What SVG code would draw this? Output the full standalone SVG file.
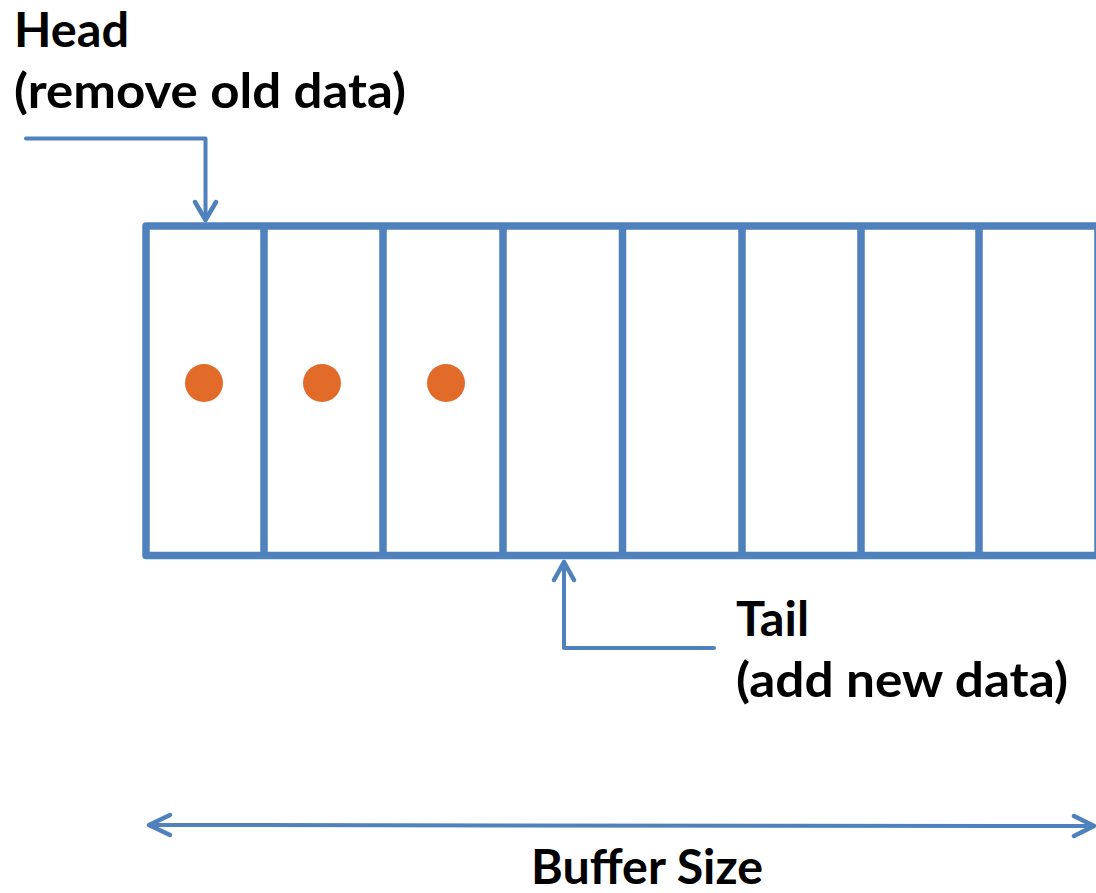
<svg xmlns="http://www.w3.org/2000/svg" width="1096" height="893" viewBox="0 0 1096 893">
<style>
.cell{fill:none;stroke:#4f81bd;stroke-width:7.5;stroke-linejoin:round}
.div{stroke:#4f81bd;stroke-width:7.5}
.con{fill:none;stroke:#4f81bd;stroke-width:4;stroke-linecap:round;stroke-linejoin:round}
.head{fill:none;stroke:#4f81bd;stroke-width:4.5;stroke-linecap:round;stroke-linejoin:round}
.dot{fill:#e26b29}
.lbl{font-family:Lato,"Open Sans","Liberation Sans",sans-serif;font-weight:bold;font-size:47px;fill:#000}
</style>
<rect width="1096" height="893" fill="#fff"/>
<g id="buffer">
<rect class="cell" x="146" y="226" width="952" height="329.5"/>
<line class="div" x1="264" y1="226" x2="264" y2="555.5"/>
<line class="div" x1="383" y1="226" x2="383" y2="555.5"/>
<line class="div" x1="503" y1="226" x2="503" y2="555.5"/>
<line class="div" x1="622.5" y1="226" x2="622.5" y2="555.5"/>
<line class="div" x1="742" y1="226" x2="742" y2="555.5"/>
<line class="div" x1="861" y1="226" x2="861" y2="555.5"/>
<line class="div" x1="979" y1="226" x2="979" y2="555.5"/>
</g>
<g id="data">
<circle class="dot" cx="204" cy="383" r="19"/>
<circle class="dot" cx="322" cy="383" r="19"/>
<circle class="dot" cx="446" cy="383" r="19"/>
</g>
<g id="connectors">
<polyline class="con" points="26,138.5 205.5,138.5 205.5,219"/>
<polyline class="head" points="195,202 205.5,220 216,202"/>
<polyline class="con" points="714,648 564,648 564,562"/>
<polyline class="head" points="554,580 564,562 574,580"/>
<line class="con" x1="150" y1="825" x2="1092" y2="826"/>
<polyline class="head" points="170,815 149,825 170,835"/>
<polyline class="head" points="1074,816 1094,826 1074,836"/>
</g>
<g id="head-label">
<text class="lbl" x="14" y="46.5" textLength="115" lengthAdjust="spacingAndGlyphs">Head</text>
<text class="lbl" x="14" y="108" textLength="392" lengthAdjust="spacingAndGlyphs">(remove old data)</text>
</g>
<g id="tail-label">
<text class="lbl" x="736" y="636" textLength="73" lengthAdjust="spacingAndGlyphs">Tail</text>
<text class="lbl" x="736" y="697" textLength="332" lengthAdjust="spacingAndGlyphs">(add new data)</text>
</g>
<g id="size-label">
<text class="lbl" x="531" y="884" textLength="232" lengthAdjust="spacingAndGlyphs">Buffer Size</text>
</g>
</svg>
